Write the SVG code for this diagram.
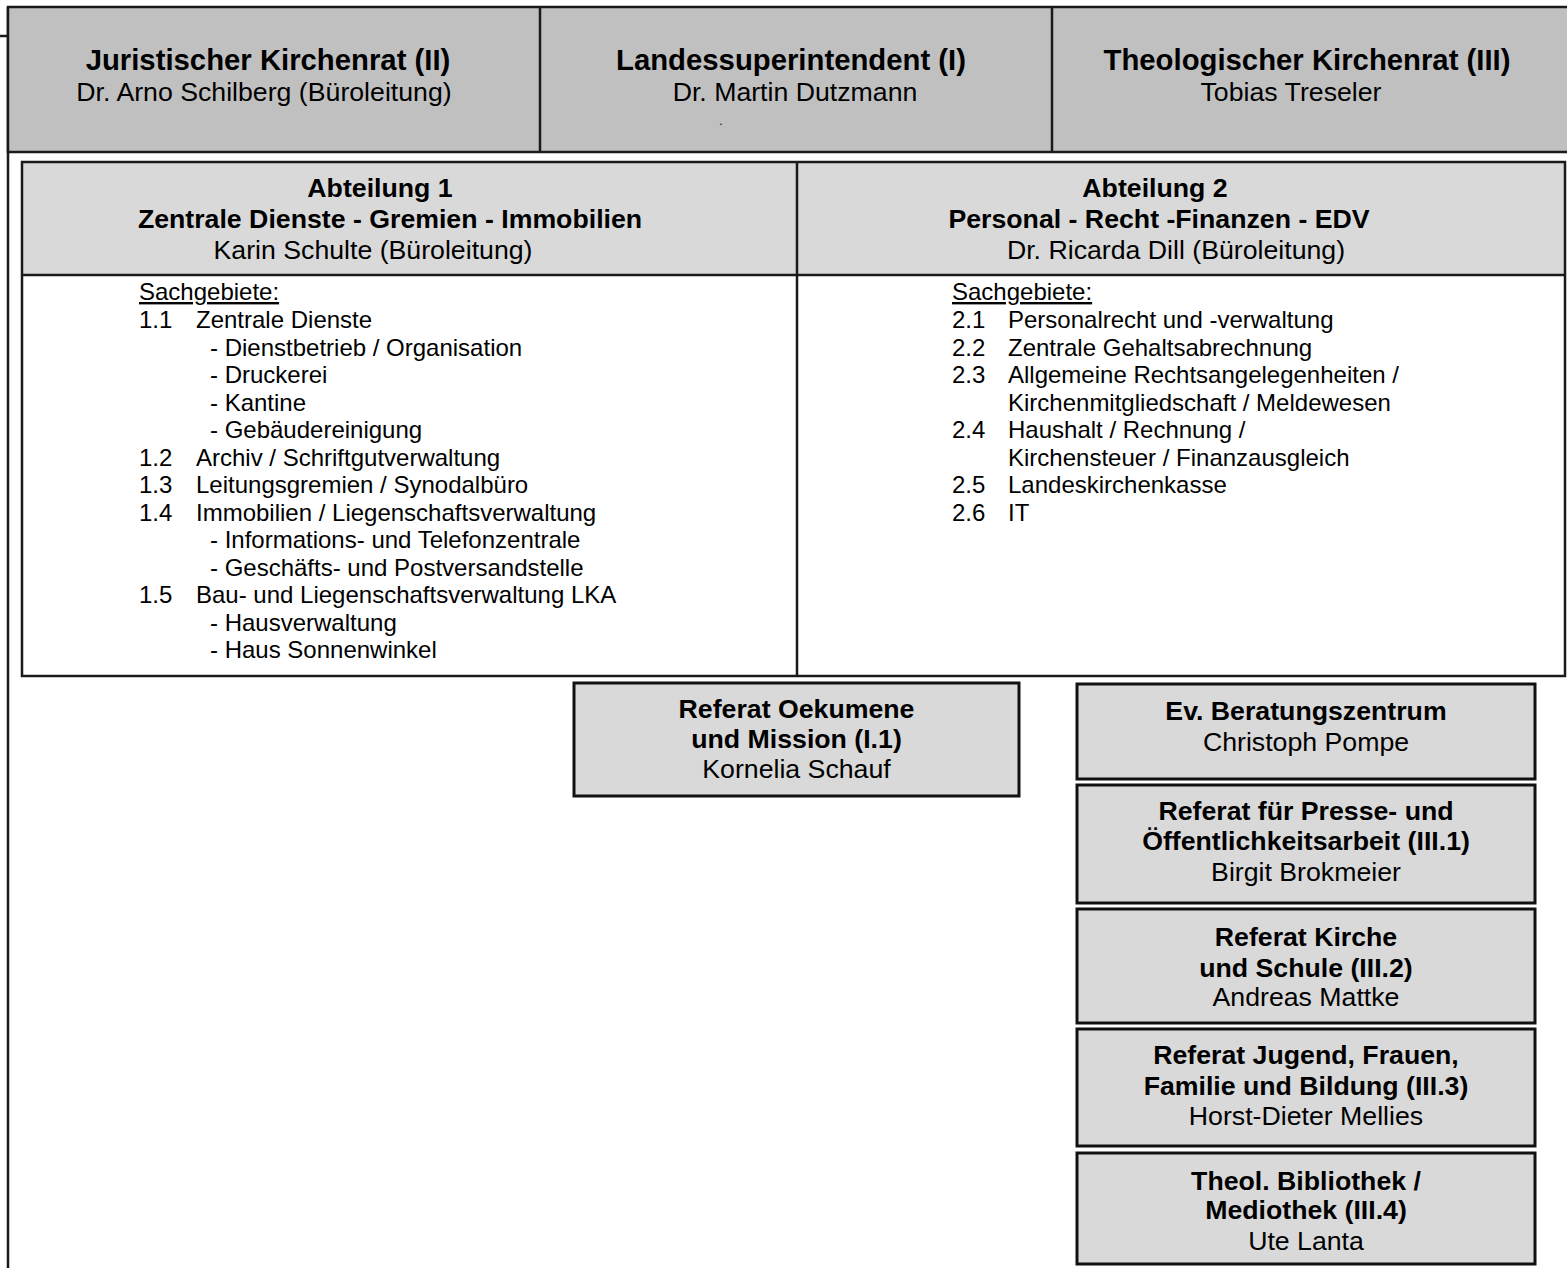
<svg xmlns="http://www.w3.org/2000/svg" width="1567" height="1268" viewBox="0 0 1567 1268">
<style>
text{font-family:"Liberation Sans",Arial,sans-serif;fill:#000}
.t{font-size:29.3px;font-weight:bold;text-anchor:middle}
.s{font-size:26.7px;text-anchor:middle}
.b{font-size:26.7px;font-weight:bold;text-anchor:middle}
.l{font-size:24px}
.ln{fill:none;stroke:#1a1a1a;stroke-width:2.5}
.box{fill:#d9d9d9;stroke:#111;stroke-width:3}
</style>
<rect width="1567" height="1268" fill="#fff"/>
<g id="frame">
<line class="ln" x1="8" y1="7" x2="8" y2="1268"/>
<line class="ln" x1="0" y1="36" x2="8" y2="36"/>
</g>
<g id="leitung">
<rect x="8" y="7" width="1570" height="145" fill="#c0c0c0" stroke="#1a1a1a" stroke-width="2.5"/>
<line class="ln" x1="540" y1="7" x2="540" y2="152"/>
<line class="ln" x1="1052" y1="7" x2="1052" y2="152"/>
</g>
<g id="juristischer">
<text class="t" x="268" y="70">Juristischer Kirchenrat (II)</text>
<text class="s" x="264" y="101">Dr. Arno Schilberg (Büroleitung)</text>
</g>
<g id="landessuperintendent">
<text class="t" x="791" y="70">Landessuperintendent (I)</text>
<text class="s" x="795" y="101">Dr. Martin Dutzmann</text>
<text class="s" x="721" y="125" style="font-size:12px">.</text>
</g>
<g id="theologischer">
<text class="t" x="1307" y="70">Theologischer Kirchenrat (III)</text>
<text class="s" x="1291" y="101">Tobias Treseler</text>
</g>
<g id="abteilungen">
<rect x="22" y="162" width="1543" height="113" fill="#d9d9d9"/>
<rect x="22" y="162" width="1543" height="514" fill="none" stroke="#1a1a1a" stroke-width="2.5"/>
<line class="ln" x1="22" y1="275" x2="1565" y2="275"/>
<line class="ln" x1="797" y1="162" x2="797" y2="676"/>
</g>
<g id="abteilung1">
<text class="b" x="380" y="197">Abteilung 1</text>
<text class="b" x="390" y="228">Zentrale Dienste - Gremien - Immobilien</text>
<text class="s" x="373" y="259">Karin Schulte (Büroleitung)</text>
<text class="l" x="139" y="300" text-decoration="underline">Sachgebiete:</text>
<text class="l" x="139" y="328">1.1</text><text class="l" x="196" y="328">Zentrale Dienste</text>
<text class="l" x="210" y="355.5">- Dienstbetrieb / Organisation</text>
<text class="l" x="210" y="383">- Druckerei</text>
<text class="l" x="210" y="410.5">- Kantine</text>
<text class="l" x="210" y="438">- Gebäudereinigung</text>
<text class="l" x="139" y="465.5">1.2</text><text class="l" x="196" y="465.5">Archiv / Schriftgutverwaltung</text>
<text class="l" x="139" y="493">1.3</text><text class="l" x="196" y="493">Leitungsgremien / Synodalbüro</text>
<text class="l" x="139" y="520.5">1.4</text><text class="l" x="196" y="520.5">Immobilien / Liegenschaftsverwaltung</text>
<text class="l" x="210" y="548">- Informations- und Telefonzentrale</text>
<text class="l" x="210" y="575.5">- Geschäfts- und Postversandstelle</text>
<text class="l" x="139" y="603">1.5</text><text class="l" x="196" y="603">Bau- und Liegenschaftsverwaltung LKA</text>
<text class="l" x="210" y="630.5">- Hausverwaltung</text>
<text class="l" x="210" y="658">- Haus Sonnenwinkel</text>
</g>
<g id="abteilung2">
<text class="b" x="1155" y="197">Abteilung 2</text>
<text class="b" x="1159" y="228">Personal - Recht -Finanzen - EDV</text>
<text class="s" x="1176" y="259">Dr. Ricarda Dill (Büroleitung)</text>
<text class="l" x="952" y="300" text-decoration="underline">Sachgebiete:</text>
<text class="l" x="952" y="328">2.1</text><text class="l" x="1008" y="328">Personalrecht und -verwaltung</text>
<text class="l" x="952" y="355.5">2.2</text><text class="l" x="1008" y="355.5">Zentrale Gehaltsabrechnung</text>
<text class="l" x="952" y="383">2.3</text><text class="l" x="1008" y="383">Allgemeine Rechtsangelegenheiten /</text>
<text class="l" x="1008" y="410.5">Kirchenmitgliedschaft / Meldewesen</text>
<text class="l" x="952" y="438">2.4</text><text class="l" x="1008" y="438">Haushalt / Rechnung /</text>
<text class="l" x="1008" y="465.5">Kirchensteuer / Finanzausgleich</text>
<text class="l" x="952" y="493">2.5</text><text class="l" x="1008" y="493">Landeskirchenkasse</text>
<text class="l" x="952" y="520.5">2.6</text><text class="l" x="1008" y="520.5">IT</text>
</g>
<g id="oekumene">
<rect class="box" x="574" y="683" width="445" height="113"/>
<text class="b" x="796.5" y="718">Referat Oekumene</text>
<text class="b" x="796.5" y="748">und Mission (I.1)</text>
<text class="s" x="796.5" y="778">Kornelia Schauf</text>
</g>
<g id="beratungszentrum">
<rect class="box" x="1077" y="684" width="458" height="95"/>
<text class="b" x="1306" y="720">Ev. Beratungszentrum</text>
<text class="s" x="1306" y="751">Christoph Pompe</text>
</g>
<g id="presse">
<rect class="box" x="1077" y="785" width="458" height="118"/>
<text class="b" x="1306" y="820">Referat für Presse- und</text>
<text class="b" x="1306" y="850">Öffentlichkeitsarbeit (III.1)</text>
<text class="s" x="1306" y="881">Birgit Brokmeier</text>
</g>
<g id="schule">
<rect class="box" x="1077" y="909" width="458" height="114"/>
<text class="b" x="1306" y="946">Referat Kirche</text>
<text class="b" x="1306" y="977">und Schule (III.2)</text>
<text class="s" x="1306" y="1006">Andreas Mattke</text>
</g>
<g id="jugend">
<rect class="box" x="1077" y="1029" width="458" height="117"/>
<text class="b" x="1306" y="1064">Referat Jugend, Frauen,</text>
<text class="b" x="1306" y="1095">Familie und Bildung (III.3)</text>
<text class="s" x="1306" y="1125">Horst-Dieter Mellies</text>
</g>
<g id="bibliothek">
<rect class="box" x="1077" y="1153" width="458" height="111"/>
<text class="b" x="1306" y="1190">Theol. Bibliothek /</text>
<text class="b" x="1306" y="1219">Mediothek (III.4)</text>
<text class="s" x="1306" y="1250">Ute Lanta</text>
</g>
<g id="connectors"></g>
</svg>
